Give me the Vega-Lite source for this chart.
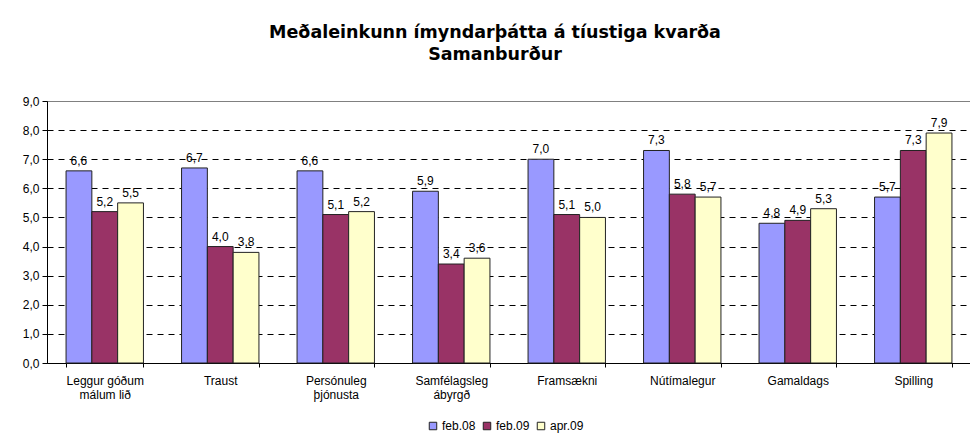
{
  "$schema": "https://vega.github.io/schema/vega-lite/v6.json",
  "width": 924,
  "height": 262,
  "autosize": {"type": "none"},
  "padding": {"left": 47, "top": 101, "right": 0, "bottom": 73},
  "background": "white",
  "title": {
    "text": ["Meðaleinkunn ímyndarþátta á tíustiga kvarða", "Samanburður"],
    "font": "DejaVu Sans",
    "fontSize": 17.5,
    "fontWeight": "bold",
    "color": "black",
    "anchor": "middle",
    "dx": -14,
    "offset": 32,
    "lineHeight": 22
  },
  "data": {
    "values": [
      {"flokkur": "Leggur góðum málum lið", "tímabil": "feb.08", "gildi": 6.6},
      {"flokkur": "Leggur góðum málum lið", "tímabil": "feb.09", "gildi": 5.2},
      {"flokkur": "Leggur góðum málum lið", "tímabil": "apr.09", "gildi": 5.5},
      {"flokkur": "Traust", "tímabil": "feb.08", "gildi": 6.7},
      {"flokkur": "Traust", "tímabil": "feb.09", "gildi": 4.0},
      {"flokkur": "Traust", "tímabil": "apr.09", "gildi": 3.8},
      {"flokkur": "Persónuleg þjónusta", "tímabil": "feb.08", "gildi": 6.6},
      {"flokkur": "Persónuleg þjónusta", "tímabil": "feb.09", "gildi": 5.1},
      {"flokkur": "Persónuleg þjónusta", "tímabil": "apr.09", "gildi": 5.2},
      {"flokkur": "Samfélagsleg ábyrgð", "tímabil": "feb.08", "gildi": 5.9},
      {"flokkur": "Samfélagsleg ábyrgð", "tímabil": "feb.09", "gildi": 3.4},
      {"flokkur": "Samfélagsleg ábyrgð", "tímabil": "apr.09", "gildi": 3.6},
      {"flokkur": "Framsækni", "tímabil": "feb.08", "gildi": 7.0},
      {"flokkur": "Framsækni", "tímabil": "feb.09", "gildi": 5.1},
      {"flokkur": "Framsækni", "tímabil": "apr.09", "gildi": 5.0},
      {"flokkur": "Nútímalegur", "tímabil": "feb.08", "gildi": 7.3},
      {"flokkur": "Nútímalegur", "tímabil": "feb.09", "gildi": 5.8},
      {"flokkur": "Nútímalegur", "tímabil": "apr.09", "gildi": 5.7},
      {"flokkur": "Gamaldags", "tímabil": "feb.08", "gildi": 4.8},
      {"flokkur": "Gamaldags", "tímabil": "feb.09", "gildi": 4.9},
      {"flokkur": "Gamaldags", "tímabil": "apr.09", "gildi": 5.3},
      {"flokkur": "Spilling", "tímabil": "feb.08", "gildi": 5.7},
      {"flokkur": "Spilling", "tímabil": "feb.09", "gildi": 7.3},
      {"flokkur": "Spilling", "tímabil": "apr.09", "gildi": 7.9}
    ]
  },
  "encoding": {
    "x": {
      "field": "flokkur",
      "type": "nominal",
      "sort": null,
      "scale": {"paddingInner": 0.33, "paddingOuter": 0.165},
      "axis": {
        "title": null,
        "labelAngle": 0,
        "labelFont": "Liberation Sans",
        "labelFontSize": 12,
        "labelColor": "black",
        "labelPadding": 8,
        "labelLineHeight": 14,
        "labelBaseline": "top",
        "labelExpr": "datum.label == 'Leggur góðum málum lið' ? ['Leggur góðum', 'málum lið'] : datum.label == 'Persónuleg þjónusta' ? ['Persónuleg', 'þjónusta'] : datum.label == 'Samfélagsleg ábyrgð' ? ['Samfélagsleg', 'ábyrgð'] : datum.label",
        "tickBand": "extent",
        "tickColor": "black",
        "tickSize": 4,
        "domainColor": "black",
        "domainWidth": 1,
        "grid": false
      }
    },
    "xOffset": {
      "field": "tímabil",
      "type": "nominal",
      "sort": ["feb.08", "feb.09", "apr.09"],
      "scale": {"paddingInner": 0, "paddingOuter": 0}
    },
    "y": {
      "field": "gildi",
      "type": "quantitative",
      "scale": {"domain": [0, 9], "nice": false},
      "axis": {
        "title": null,
        "values": [0, 1, 2, 3, 4, 5, 6, 7, 8, 9],
        "format": ".1f",
        "labelFont": "Liberation Sans",
        "labelFontSize": 12,
        "labelColor": "black",
        "labelPadding": 3,
        "tickColor": "black",
        "tickSize": 5,
        "domainColor": "black",
        "grid": true,
        "gridColor": {"condition": {"test": "datum.value == 9", "value": "#808080"}, "value": "black"},
        "gridDash": {"condition": {"test": "datum.value == 9", "value": []}, "value": [6, 5]},
        "gridWidth": 1
      }
    }
  },
  "layer": [
    {
      "mark": {"type": "bar", "stroke": "#222222", "strokeWidth": 1},
      "encoding": {
        "color": {
          "field": "tímabil",
          "type": "nominal",
          "sort": ["feb.08", "feb.09", "apr.09"],
          "scale": {"domain": ["feb.08", "feb.09", "apr.09"], "range": ["#9999FF", "#993366", "#FFFFCC"]},
          "legend": {
            "title": null,
            "orient": "none",
            "direction": "horizontal",
            "legendX": 380,
            "legendY": 319,
            "symbolType": "square",
            "symbolSize": 56,
            "symbolStrokeColor": "#222222",
            "symbolStrokeWidth": 1,
            "labelFont": "Liberation Sans",
            "labelFontSize": 12,
            "labelColor": "black",
            "labelOffset": 3,
            "columnPadding": 5
          }
        }
      }
    },
    {
      "mark": {"type": "text", "baseline": "bottom", "dy": -3, "font": "Liberation Sans", "fontSize": 12, "color": "black"},
      "encoding": {
        "text": {"field": "gildi", "type": "quantitative", "format": ".1f"}
      }
    }
  ],
  "config": {
    "locale": {"number": {"decimal": ",", "thousands": ".", "grouping": [3], "currency": ["", " kr."]}},
    "view": {"stroke": "#808080", "strokeWidth": 1}
  }
}
